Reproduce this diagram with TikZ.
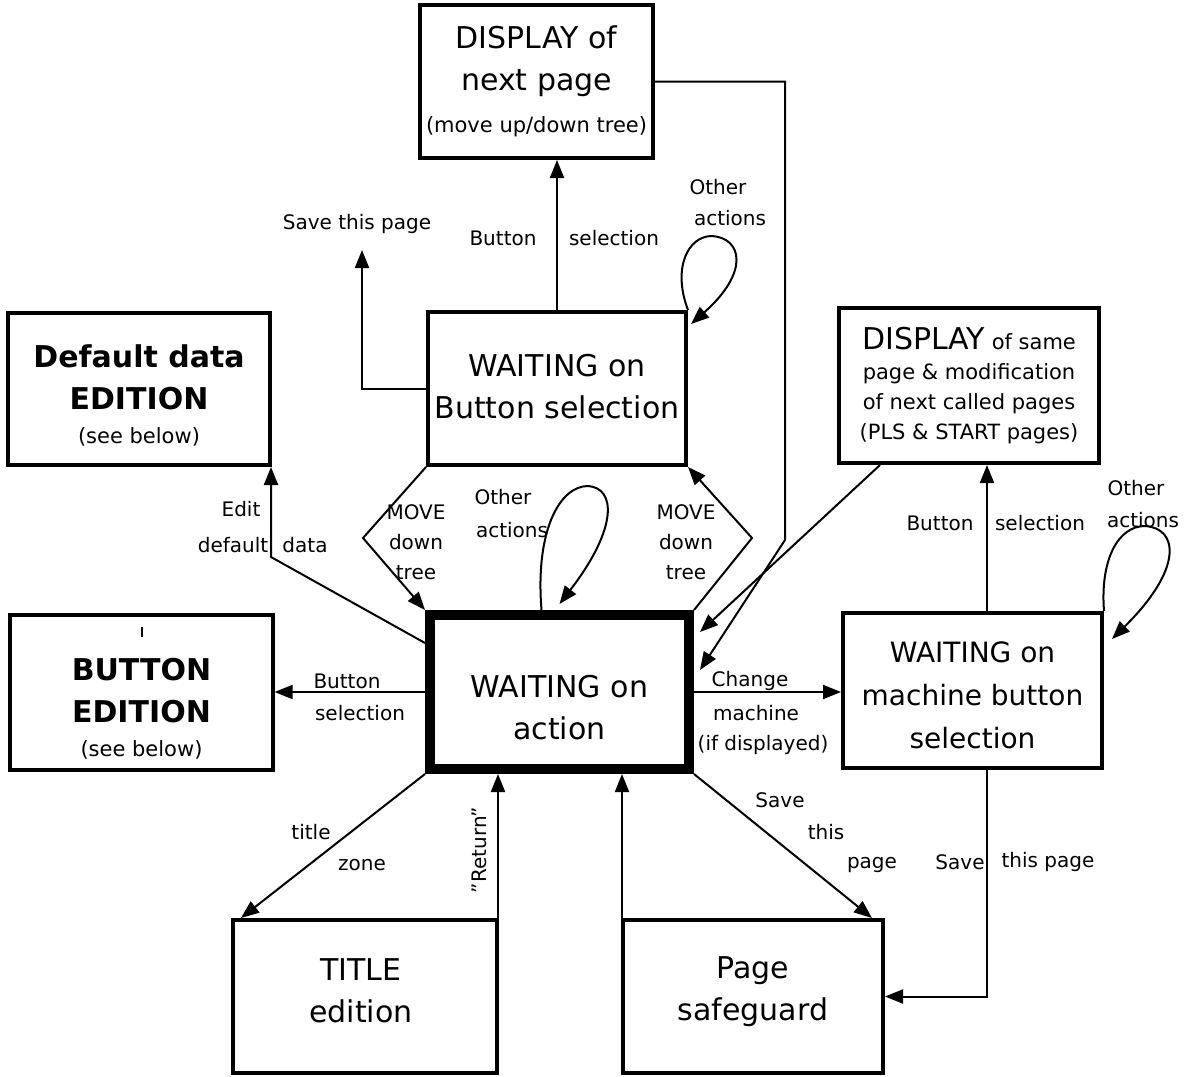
\documentclass[tikz,border=0pt]{standalone}
\usepackage{fontspec}
\setmainfont{DejaVu Sans}
\usetikzlibrary{arrows.meta,calc}
\newcommand\bigf{\fontsize{15}{21}\selectfont}
\newcommand\midf{\fontsize{14}{21.5}\selectfont}
\newcommand\smf{\fontsize{10.5}{15}\selectfont}
\newcommand\lblf{\fontsize{10}{12}\selectfont}
\begin{document}
\begin{tikzpicture}[x=0.5pt,y=-0.5pt,
  box/.style={draw,line width=2pt,rectangle,inner sep=0pt},
  boxtext/.style={align=center,inner sep=0pt,font=\bigf},
  arr/.style={line width=1pt,-{Triangle[length=9pt,width=7pt]}},
  lbl/.style={font=\lblf,inner sep=0pt}]
\useasboundingbox[fill=white] (0,0) rectangle (1188,1076);

% boxes
\node[box,minimum width=116.5pt,minimum height=76.5pt] (dispnext) at (536.5,81.5) {};
\node[box,minimum width=129pt,minimum height=76.5pt] (waitbtn) at (557,388.5) {};
\node[box,minimum width=131pt,minimum height=76pt] (defdata) at (139,389) {};
\node[box,minimum width=130pt,minimum height=77.5pt] (dispsame) at (969,385.5) {};
\node[box,minimum width=131.5pt,minimum height=77.5pt,line width=1.6pt] (btnedit) at (141.5,692.5) {};
\node[box,minimum width=129.5pt,minimum height=77pt,line width=5pt] (action) at (559.5,692) {};
\node[box,minimum width=129.5pt,minimum height=77.5pt] (machine) at (972.5,690.5) {};
\node[box,minimum width=132pt,minimum height=76.5pt] (title) at (365,996.5) {};
\node[box,minimum width=130pt,minimum height=76.5pt] (safeguard) at (753,996.5) {};

% box texts
\node[boxtext] (dispnextT) at (dispnext) {DISPLAY of\\next page\\{\smf (move up/down tree)}};
\node[boxtext] (waitbtnT) at ($(waitbtn)+(0,-2)$) {WAITING on\\Button selection};
\node[boxtext] (defdataT) at ($(defdata)+(0,6)$)
  {\bfseries Default data\\\bfseries EDITION\\[-4pt]{\smf (see below)}};
\node[boxtext,font=\smf] (dispsameT) at (dispsame)
  {{\fontsize{15}{15}\selectfont DISPLAY} of same\\page \& modification\\of next called pages\\(PLS \& START pages)};
\node[boxtext] (btneditT) at ($(btnedit)+(0,16)$)
  {\bfseries BUTTON\\\bfseries EDITION\\[-4pt]{\smf (see below)}};
\node[boxtext] (actionT) at ($(action)+(0,16)$) {WAITING on\\action};
\node[boxtext,font=\midf] (machineT) at ($(machine)+(0,5)$) {WAITING on\\machine button\\selection};
\node[boxtext] (titleT) at ($(title)+(-4,-6)$) {TITLE\\edition};
\node[boxtext] (safeguardT) at ($(safeguard)+(0,-5)$) {Page\\safeguard};

% stray tick in BUTTON EDITION box
\draw[line width=0.8pt] (142,627) -- (142,637);

% coordinates
\coordinate (savetip) at (362,250);
\coordinate (r1) at (785,0 |- dispnext.east);
\coordinate (r2) at (785,540);
\coordinate (ml) at (363,538);
\coordinate (mr) at (752,538);
\coordinate (ed) at (271,557);
\coordinate (mtop) at ($(machine.north)+(14.5,0)$);
\coordinate (mbot) at ($(machine.south)+(14.5,0)$);
\coordinate (ret) at ($(title.north east)+(-1,0)$);
\coordinate (sgl) at ($(safeguard.north west)+(1,0)$);

% connectors
\draw[arr] (waitbtn.north) -- (waitbtn.north |- dispnext.south);
\draw[arr] (waitbtn.west) -| (savetip);
\draw[arr] (waitbtn.north east) .. controls (672,268) and (688,236) .. (712,236)
  .. controls (742,238) and (750,272) .. ($(waitbtn.north east)+(3,14)$);
\draw[arr] (dispnext.east) -- (r1) -- (r2) -- ($(action.east)+(6,-22)$);
\draw[arr] ($(dispsame.south west)+(43,0)$) -- ($(action.north east)+(6,22)$);
\draw[arr] (waitbtn.south west) -- (ml) -- (action.north west);
\draw[arr] (action.north east) -- (mr) -- (waitbtn.south east);
\draw[arr] ($(action.north)+(-18,0)$) .. controls (535,530) and (560,486) .. (588,486)
  .. controls (616,488) and (618,528) .. ($(action.north)+(0,-6)$);
\draw[arr] ($(action.north west)+(0,33)$) -- (ed) -- (ed |- defdata.south);
\draw[arr] (action.west) -- (action.west -| btnedit.east);
\draw[arr] (action.east) -- (action.east -| machine.west);
\draw[arr] (mtop) -- (mtop |- dispsame.south);
\draw[arr] (machine.north east) .. controls (1100,560) and (1118,526) .. (1145,526)
  .. controls (1178,528) and (1184,568) .. ($(machine.north east)+(8,28)$);
\draw[arr] (action.south west) -- ($(title.north west)+(10,0)$);
\draw[arr] (ret) -- (ret |- action.south);
\draw[arr] (sgl) -- (sgl |- action.south);
\draw[arr] (action.south east) -- ($(safeguard.north east)+(-13,0)$);
\draw[arr] (mbot) |- (safeguard.east);

% labels
\node[lbl] (l1) at (357,224) {Save this page};
\node[lbl] (l2) at (503,238) {Button};
\node[lbl] (l3) at (614,238) {selection};
\node[lbl] (l4) at (718,187) {Other};
\node[lbl] (l5) at (730,218) {actions};
\node[lbl] (l6) at (241,509) {Edit};
\node[lbl] (l7) at (233,545) {default};
\node[lbl] (l8) at (305,545) {data};
\node[lbl,align=center,font=\fontsize{10}{15}\selectfont] (l9) at (416,542) {MOVE\\down\\tree};
\node[lbl] (l10) at (503,497) {Other};
\node[lbl] (l11) at (512,530) {actions};
\node[lbl,align=center,font=\fontsize{10}{15}\selectfont] (l12) at (686,542) {MOVE\\down\\tree};
\node[lbl] (l13) at (940,523) {Button};
\node[lbl] (l14) at (1040,523) {selection};
\node[lbl] (l15) at (1136,488) {Other};
\node[lbl] (l16) at (1143,520) {actions};
\node[lbl] (l17) at (347,681) {Button};
\node[lbl] (l18) at (360,713) {selection};
\node[lbl] (l19) at (750,681) {Change};
\node[lbl] (l20) at (756,713) {machine};
\node[lbl] (l21) at (763,745) {(if displayed)};
\node[lbl] (l22) at (311,832) {title};
\node[lbl] (l23) at (362,865) {zone};
\node[lbl,rotate=90] (l24) at (479,850) {\symbol{34}Return\symbol{34}};
\node[lbl] (l25) at (780,800) {Save};
\node[lbl] (l26) at (826,832) {this};
\node[lbl] (l27) at (872,865) {page};
\node[lbl] (l28) at (960,862) {Save};
\node[lbl] (l29) at (1048,862) {this page};
\end{tikzpicture}
\end{document}
